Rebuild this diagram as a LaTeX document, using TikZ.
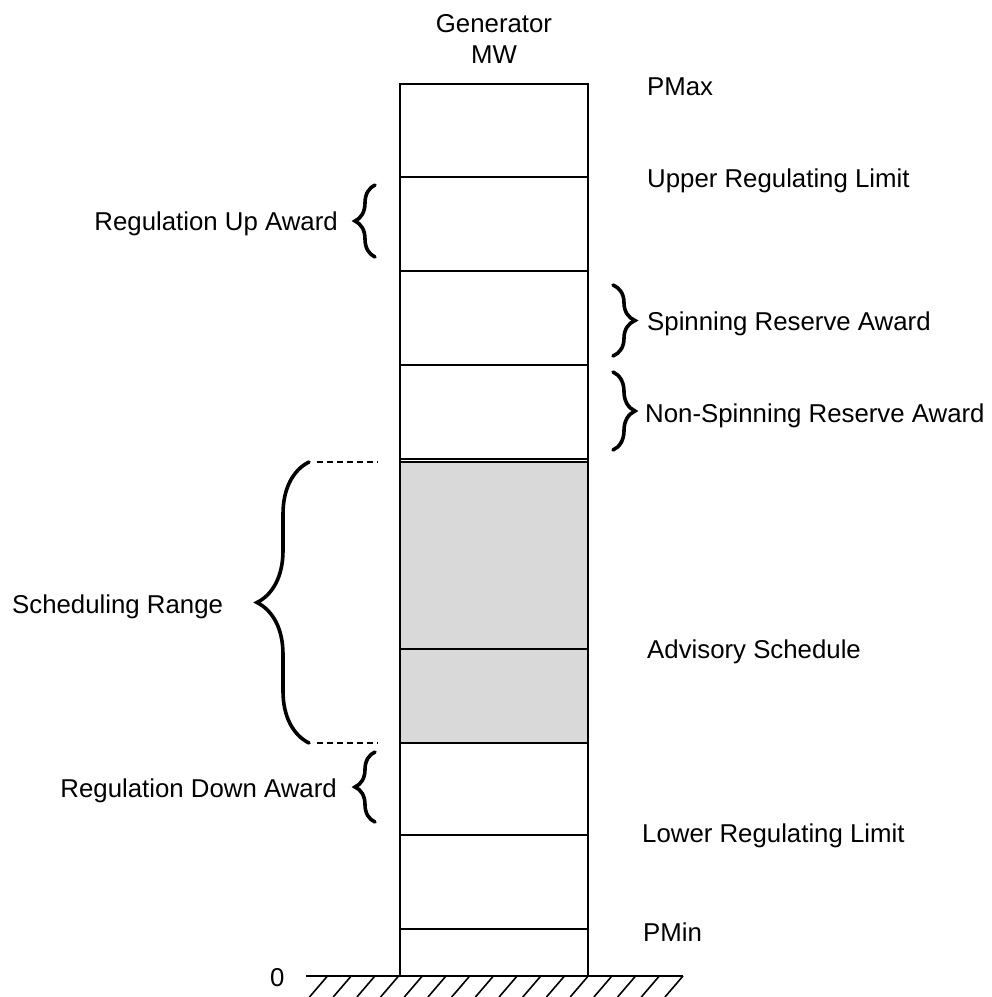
\documentclass[tikz,border=0pt]{standalone}
\usepackage{fontspec}
\setmainfont{Liberation Sans}
\usetikzlibrary{decorations.pathreplacing}
\begin{document}
\begin{tikzpicture}[x=1pt,y=-1pt,
  lbl/.style={inner sep=0pt, font=\fontsize{25.8}{30}\selectfont},
  cellline/.style={draw=black, line width=1.6pt},
  bracestyle/.style={decorate, decoration={brace, amplitude=#1}, line width=3.6pt, line cap=round},
  dashline/.style={line width=1.3pt, dash pattern=on 6pt off 4pt},
  hatchline/.style={line width=1.6pt}]
\useasboundingbox (0,0) rectangle (992,997);
% grey scheduled part
\fill[black!15] (400,462) rectangle (588,743);
% column
\draw[cellline] (400,84) rectangle (588,976);
\foreach \yy in {177,271,365,459,462,649,743,835,929}
  \draw[cellline] (400,\yy) -- (588,\yy);
% ground
\coordinate (g1) at (306,976);
\coordinate (g2) at (683,976);
\draw[hatchline] (g1) -- (g2);
\foreach \i in {0,...,15}
  \draw[hatchline] (327.5+\i*23.7,976) -- ++(-18,21);
% labels
\node[lbl, anchor=base] (gen1) at (494,32) {Generator};
\node[lbl, anchor=base] (gen2) at (494,63) {MW};
\node[lbl, anchor=base west] (pmax) at (647,95) {PMax};
\node[lbl, anchor=base west] (url) at (647,187) {Upper Regulating Limit};
\node[lbl, anchor=base east] (rua) at (338,230) {Regulation Up Award};
\node[lbl, anchor=base west] (sra) at (647,330) {Spinning Reserve Award};
\node[lbl, anchor=base west] (nsra) at (645,422) {Non-Spinning Reserve Award};
\node[lbl, anchor=base west] (sr) at (12,613) {Scheduling Range};
\node[lbl, anchor=base west] (as) at (647,658) {Advisory Schedule};
\node[lbl, anchor=base east] (rda) at (337,797) {Regulation Down Award};
\node[lbl, anchor=base west] (lrl) at (642,842) {Lower Regulating Limit};
\node[lbl, anchor=base west] (pmin) at (643,941) {PMin};
\node[lbl, anchor=base west] (zero) at (270,986) {0};
% braces
\draw[bracestyle=20pt] (375,257) -- (375,185);
\draw[bracestyle=20pt] (375,822) -- (375,752);
\draw[bracestyle=22pt] (613,285) -- (613,356);
\draw[bracestyle=22pt] (613,372) -- (613,450);
\draw[bracestyle=52pt] (309,743) -- (309,462);
% dashed extension lines
\coordinate (d1a) at (317,462); \coordinate (d1b) at (378,462);
\coordinate (d2a) at (317,743); \coordinate (d2b) at (378,743);
\draw[dashline] (d1a) -- (d1b);
\draw[dashline] (d2a) -- (d2b);
\end{tikzpicture}
\end{document}
